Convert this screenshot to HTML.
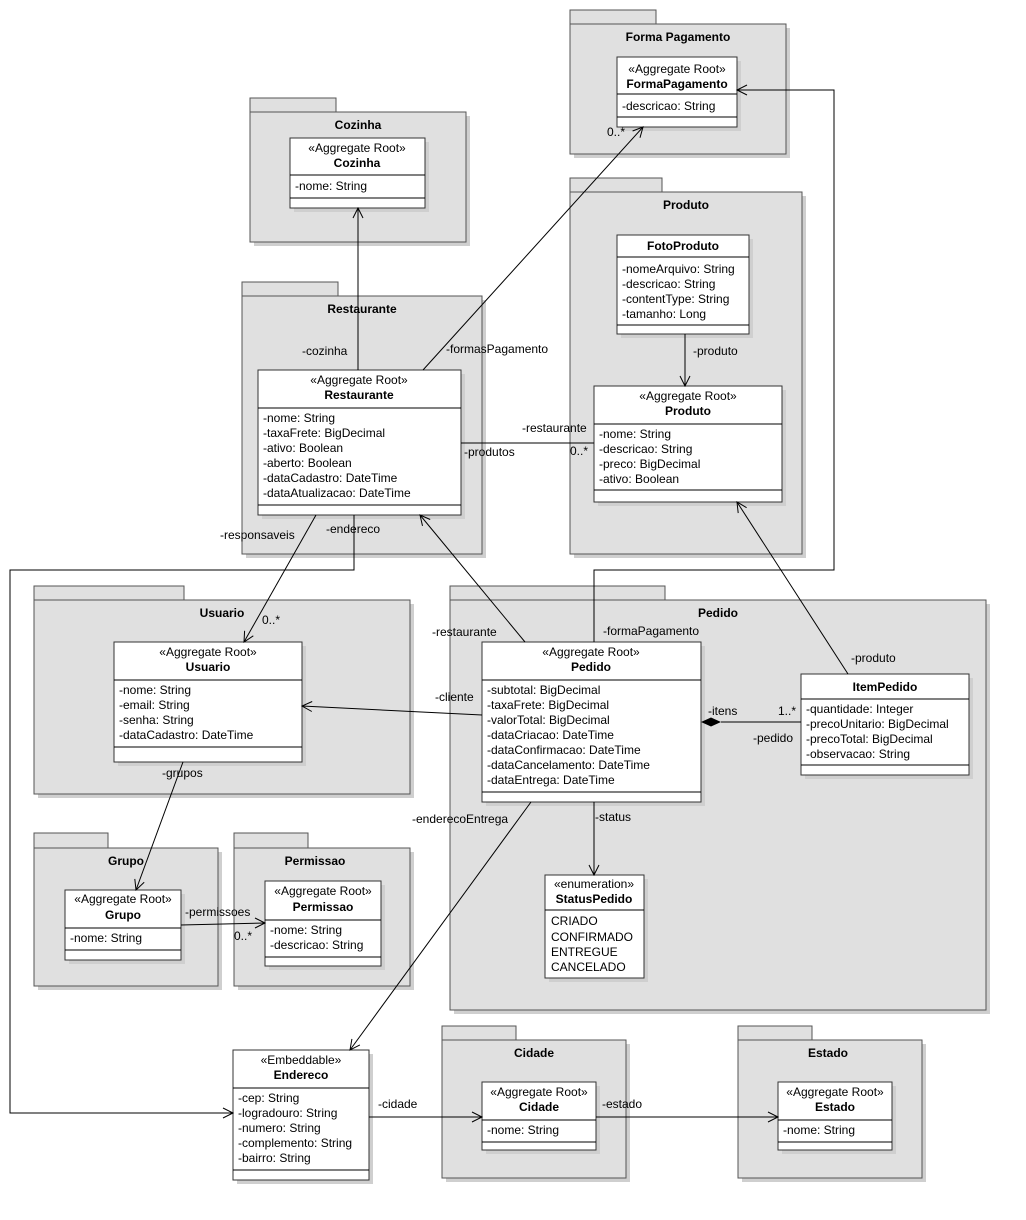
<!DOCTYPE html>
<html><head><meta charset="utf-8"><style>
html,body{margin:0;padding:0;background:#fff}
svg{display:block}
text{font-family:"Liberation Sans",Arial,sans-serif;font-size:12px;fill:#000}
.b{font-weight:bold}
.pk{fill:#e0e0e0;stroke:#555;stroke-width:1}
.cl{fill:#fff;stroke:#333;stroke-width:1}
.sh{fill:#cfcfcf}
.ln{stroke:#000;stroke-width:1;fill:none}
.ar{stroke:#000;stroke-width:1;fill:none}
</style></head><body>
<svg width="1026" height="1220" viewBox="0 0 1026 1220" xmlns="http://www.w3.org/2000/svg">
<!-- Packages -->
<g>
<rect class="sh" x="574" y="28" width="216" height="130"/>
<rect class="pk" x="570" y="10" width="86" height="14"/><rect class="pk" x="570" y="24" width="216" height="130"/>
<text class="b" x="678" y="41" text-anchor="middle">Forma Pagamento</text>

<rect class="sh" x="254" y="116" width="216" height="130"/>
<rect class="pk" x="250" y="98" width="86" height="14"/><rect class="pk" x="250" y="112" width="216" height="130"/>
<text class="b" x="358" y="129" text-anchor="middle">Cozinha</text>

<rect class="sh" x="574" y="196" width="232" height="362"/>
<rect class="pk" x="570" y="178" width="92" height="14"/><rect class="pk" x="570" y="192" width="232" height="362"/>
<text class="b" x="686" y="209" text-anchor="middle">Produto</text>

<rect class="sh" x="246" y="300" width="240" height="258"/>
<rect class="pk" x="242" y="282" width="96" height="14"/><rect class="pk" x="242" y="296" width="240" height="258"/>
<text class="b" x="362" y="313" text-anchor="middle">Restaurante</text>

<rect class="sh" x="38" y="604" width="376" height="194"/>
<rect class="pk" x="34" y="586" width="150" height="14"/><rect class="pk" x="34" y="600" width="376" height="194"/>
<text class="b" x="222" y="617" text-anchor="middle">Usuario</text>

<rect class="sh" x="454" y="604" width="536" height="410"/>
<rect class="pk" x="450" y="586" width="215" height="14"/><rect class="pk" x="450" y="600" width="536" height="410"/>
<text class="b" x="718" y="617" text-anchor="middle">Pedido</text>

<rect class="sh" x="38" y="852" width="184" height="138"/>
<rect class="pk" x="34" y="833" width="74" height="15"/><rect class="pk" x="34" y="848" width="184" height="138"/>
<text class="b" x="126" y="865" text-anchor="middle">Grupo</text>

<rect class="sh" x="238" y="852" width="176" height="138"/>
<rect class="pk" x="234" y="833" width="74" height="15"/><rect class="pk" x="234" y="848" width="176" height="138"/>
<text class="b" x="315" y="865" text-anchor="middle">Permissao</text>

<rect class="sh" x="446" y="1044" width="184" height="138"/>
<rect class="pk" x="442" y="1026" width="74" height="14"/><rect class="pk" x="442" y="1040" width="184" height="138"/>
<text class="b" x="534" y="1057" text-anchor="middle">Cidade</text>

<rect class="sh" x="742" y="1044" width="184" height="138"/>
<rect class="pk" x="738" y="1026" width="74" height="14"/><rect class="pk" x="738" y="1040" width="184" height="138"/>
<text class="b" x="828" y="1057" text-anchor="middle">Estado</text>
</g>

<!-- Classes -->
<g>
<rect class="sh" x="621" y="61" width="120" height="70"/>
<rect class="cl" x="617" y="57" width="120" height="70"/>
<line class="ln" x1="617" y1="94" x2="737" y2="94"/><line class="ln" x1="617" y1="117" x2="737" y2="117"/>
<text x="677" y="73" text-anchor="middle">«Aggregate Root»</text>
<text class="b" x="677" y="88" text-anchor="middle">FormaPagamento</text>
<text x="622" y="110">-descricao: String</text>

<rect class="sh" x="294" y="142" width="135" height="70"/>
<rect class="cl" x="290" y="138" width="135" height="70"/>
<line class="ln" x1="290" y1="175" x2="425" y2="175"/><line class="ln" x1="290" y1="198" x2="425" y2="198"/>
<text x="357" y="152" text-anchor="middle">«Aggregate Root»</text>
<text class="b" x="357" y="167" text-anchor="middle">Cozinha</text>
<text x="295" y="190">-nome: String</text>

<rect class="sh" x="621" y="239" width="132" height="99"/>
<rect class="cl" x="617" y="235" width="132" height="99"/>
<line class="ln" x1="617" y1="257" x2="749" y2="257"/><line class="ln" x1="617" y1="325" x2="749" y2="325"/>
<text class="b" x="683" y="250" text-anchor="middle">FotoProduto</text>
<text x="622" y="273">-nomeArquivo: String</text>
<text x="622" y="288">-descricao: String</text>
<text x="622" y="303">-contentType: String</text>
<text x="622" y="318">-tamanho: Long</text>

<rect class="sh" x="598" y="390" width="188" height="116"/>
<rect class="cl" x="594" y="386" width="188" height="116"/>
<line class="ln" x1="594" y1="424" x2="782" y2="424"/><line class="ln" x1="594" y1="490" x2="782" y2="490"/>
<text x="688" y="400" text-anchor="middle">«Aggregate Root»</text>
<text class="b" x="688" y="415" text-anchor="middle">Produto</text>
<text x="599" y="438">-nome: String</text>
<text x="599" y="453">-descricao: String</text>
<text x="599" y="468">-preco: BigDecimal</text>
<text x="599" y="483">-ativo: Boolean</text>

<rect class="sh" x="262" y="374" width="203" height="145"/>
<rect class="cl" x="258" y="370" width="203" height="145"/>
<line class="ln" x1="258" y1="408" x2="461" y2="408"/><line class="ln" x1="258" y1="505" x2="461" y2="505"/>
<text x="359" y="384" text-anchor="middle">«Aggregate Root»</text>
<text class="b" x="359" y="399" text-anchor="middle">Restaurante</text>
<text x="263" y="422">-nome: String</text>
<text x="263" y="437">-taxaFrete: BigDecimal</text>
<text x="263" y="452">-ativo: Boolean</text>
<text x="263" y="467">-aberto: Boolean</text>
<text x="263" y="482">-dataCadastro: DateTime</text>
<text x="263" y="497">-dataAtualizacao: DateTime</text>

<rect class="sh" x="118" y="646" width="188" height="120"/>
<rect class="cl" x="114" y="642" width="188" height="120"/>
<line class="ln" x1="114" y1="680" x2="302" y2="680"/><line class="ln" x1="114" y1="747" x2="302" y2="747"/>
<text x="208" y="656" text-anchor="middle">«Aggregate Root»</text>
<text class="b" x="208" y="671" text-anchor="middle">Usuario</text>
<text x="119" y="694">-nome: String</text>
<text x="119" y="709">-email: String</text>
<text x="119" y="724">-senha: String</text>
<text x="119" y="739">-dataCadastro: DateTime</text>

<rect class="sh" x="486" y="646" width="219" height="160"/>
<rect class="cl" x="482" y="642" width="219" height="160"/>
<line class="ln" x1="482" y1="680" x2="701" y2="680"/><line class="ln" x1="482" y1="792" x2="701" y2="792"/>
<text x="591" y="656" text-anchor="middle">«Aggregate Root»</text>
<text class="b" x="591" y="671" text-anchor="middle">Pedido</text>
<text x="487" y="694">-subtotal: BigDecimal</text>
<text x="487" y="709">-taxaFrete: BigDecimal</text>
<text x="487" y="724">-valorTotal: BigDecimal</text>
<text x="487" y="739">-dataCriacao: DateTime</text>
<text x="487" y="754">-dataConfirmacao: DateTime</text>
<text x="487" y="769">-dataCancelamento: DateTime</text>
<text x="487" y="784">-dataEntrega: DateTime</text>

<rect class="sh" x="805" y="678" width="168" height="101"/>
<rect class="cl" x="801" y="674" width="168" height="101"/>
<line class="ln" x1="801" y1="699" x2="969" y2="699"/><line class="ln" x1="801" y1="765" x2="969" y2="765"/>
<text class="b" x="885" y="691" text-anchor="middle">ItemPedido</text>
<text x="806" y="713">-quantidade: Integer</text>
<text x="806" y="728">-precoUnitario: BigDecimal</text>
<text x="806" y="743">-precoTotal: BigDecimal</text>
<text x="806" y="758">-observacao: String</text>

<rect class="sh" x="549" y="879" width="99" height="103"/>
<rect class="cl" x="545" y="875" width="99" height="103"/>
<line class="ln" x1="545" y1="910" x2="644" y2="910"/>
<text x="594" y="888" text-anchor="middle">«enumeration»</text>
<text class="b" x="594" y="903" text-anchor="middle">StatusPedido</text>
<text x="551" y="925">CRIADO</text>
<text x="551" y="941">CONFIRMADO</text>
<text x="551" y="956">ENTREGUE</text>
<text x="551" y="971">CANCELADO</text>

<rect class="sh" x="69" y="894" width="116" height="70"/>
<rect class="cl" x="65" y="890" width="116" height="70"/>
<line class="ln" x1="65" y1="928" x2="181" y2="928"/><line class="ln" x1="65" y1="950" x2="181" y2="950"/>
<text x="123" y="903" text-anchor="middle">«Aggregate Root»</text>
<text class="b" x="123" y="919" text-anchor="middle">Grupo</text>
<text x="70" y="942">-nome: String</text>

<rect class="sh" x="269" y="885" width="116" height="85"/>
<rect class="cl" x="265" y="881" width="116" height="85"/>
<line class="ln" x1="265" y1="920" x2="381" y2="920"/><line class="ln" x1="265" y1="957" x2="381" y2="957"/>
<text x="323" y="895" text-anchor="middle">«Aggregate Root»</text>
<text class="b" x="323" y="911" text-anchor="middle">Permissao</text>
<text x="270" y="934">-nome: String</text>
<text x="270" y="949">-descricao: String</text>

<rect class="sh" x="237" y="1054" width="136" height="130"/>
<rect class="cl" x="233" y="1050" width="136" height="130"/>
<line class="ln" x1="233" y1="1088" x2="369" y2="1088"/><line class="ln" x1="233" y1="1170" x2="369" y2="1170"/>
<text x="301" y="1064" text-anchor="middle">«Embeddable»</text>
<text class="b" x="301" y="1079" text-anchor="middle">Endereco</text>
<text x="238" y="1102">-cep: String</text>
<text x="238" y="1117">-logradouro: String</text>
<text x="238" y="1132">-numero: String</text>
<text x="238" y="1147">-complemento: String</text>
<text x="238" y="1162">-bairro: String</text>

<rect class="sh" x="486" y="1086" width="114" height="68"/>
<rect class="cl" x="482" y="1082" width="114" height="68"/>
<line class="ln" x1="482" y1="1120" x2="596" y2="1120"/><line class="ln" x1="482" y1="1142" x2="596" y2="1142"/>
<text x="539" y="1096" text-anchor="middle">«Aggregate Root»</text>
<text class="b" x="539" y="1111" text-anchor="middle">Cidade</text>
<text x="487" y="1134">-nome: String</text>

<rect class="sh" x="782" y="1086" width="114" height="68"/>
<rect class="cl" x="778" y="1082" width="114" height="68"/>
<line class="ln" x1="778" y1="1120" x2="892" y2="1120"/><line class="ln" x1="778" y1="1142" x2="892" y2="1142"/>
<text x="835" y="1096" text-anchor="middle">«Aggregate Root»</text>
<text class="b" x="835" y="1111" text-anchor="middle">Estado</text>
<text x="783" y="1134">-nome: String</text>
</g>

<!-- Connectors -->
<g>
<line class="ln" x1="358" y1="370" x2="358" y2="208"/><polyline class="ar" points="353,218 358,208 363,218"/>
<line class="ln" x1="423" y1="370" x2="643" y2="127"/><polyline class="ar" points="640,137.8 643,127 632.6,131"/>
<line class="ln" x1="461" y1="443" x2="594" y2="443"/>
<line class="ln" x1="685" y1="334" x2="685" y2="386"/><polyline class="ar" points="680,376 685,386 690,376"/>
<line class="ln" x1="316" y1="515" x2="244" y2="642"/><polyline class="ar" points="253.3,635.8 244,642 244.6,630.8"/>
<polyline class="ln" points="354,515 354,570 10,570 10,1113 233,1113"/><polyline class="ar" points="223,1108 233,1113 223,1118"/>
<line class="ln" x1="525" y1="642" x2="420" y2="515"/><polyline class="ar" points="430.2,519.5 420,515 422.5,525.9"/>
<polyline class="ln" points="594,642 594,570 834,570 834,90 737,90"/><polyline class="ar" points="747,85 737,90 747,95"/>
<line class="ln" x1="848" y1="674" x2="737" y2="502"/><polyline class="ar" points="746.6,507.7 737,502 738.2,513.1"/>
<line class="ln" x1="482" y1="715" x2="302" y2="706"/><polyline class="ar" points="312.2,701.5 302,706 311.8,711.5"/>
<line class="ln" x1="721" y1="722" x2="801" y2="722"/><polygon points="701,722 711,717.5 721,722 711,726.5" fill="#000"/>
<line class="ln" x1="594" y1="802" x2="594" y2="875"/><polyline class="ar" points="589,865 594,875 599,865"/>
<line class="ln" x1="531" y1="802" x2="350" y2="1050"/><polyline class="ar" points="359.9,1044.9 350,1050 351.9,1038.9"/>
<line class="ln" x1="183" y1="762" x2="136" y2="890"/><polyline class="ar" points="144.2,882.3 136,890 134.8,878.9"/>
<line class="ln" x1="181" y1="925" x2="265" y2="923"/><polyline class="ar" points="255,918 265,923 255,928"/>
<line class="ln" x1="369" y1="1117" x2="482" y2="1117"/><polyline class="ar" points="472,1112 482,1117 472,1122"/>
<line class="ln" x1="596" y1="1117" x2="778" y2="1117"/><polyline class="ar" points="768,1112 778,1117 768,1122"/>
</g>

<!-- Connector labels -->
<g>
<text x="302" y="355">-cozinha</text>
<text x="446" y="353">-formasPagamento</text>
<text x="607" y="136">0..*</text>
<text x="522" y="432">-restaurante</text>
<text x="464" y="456">-produtos</text>
<text x="570" y="455">0..*</text>
<text x="693" y="355">-produto</text>
<text x="220" y="539">-responsaveis</text>
<text x="262" y="624">0..*</text>
<text x="326" y="533">-endereco</text>
<text x="432" y="636">-restaurante</text>
<text x="603" y="635">-formaPagamento</text>
<text x="851" y="662">-produto</text>
<text x="435" y="701">-cliente</text>
<text x="708" y="715">-itens</text>
<text x="778" y="715">1..*</text>
<text x="753" y="742">-pedido</text>
<text x="595" y="821">-status</text>
<text x="412" y="823">-enderecoEntrega</text>
<text x="162" y="777">-grupos</text>
<text x="185" y="916">-permissoes</text>
<text x="234" y="940">0..*</text>
<text x="378" y="1108">-cidade</text>
<text x="602" y="1108">-estado</text>
</g>
</svg>
</body></html>
